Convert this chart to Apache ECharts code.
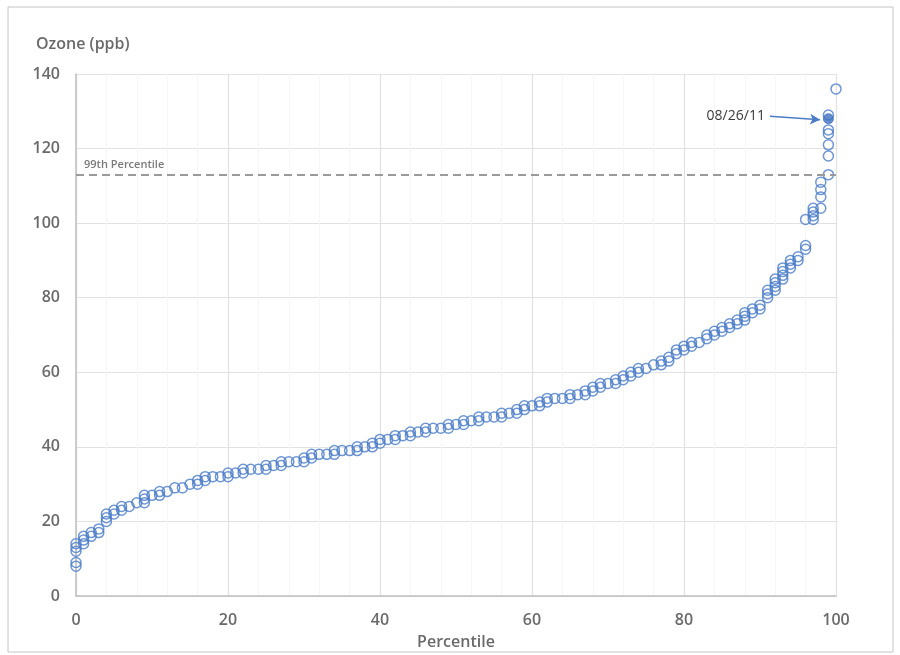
<!DOCTYPE html>
<html>
<head>
<meta charset="utf-8">
<script src="https://cdn.jsdelivr.net/npm/echarts@6/dist/echarts.min.js"></script>
<style>
  html, body { margin: 0; padding: 0; background: #fff; }
  #chart { width: 900px; height: 655px; }
</style>
</head>
<body>
<div id="chart"></div>
<script>
// ozone readings (ppb) grouped by percentile rank; index = percentile
const ozoneByPercentile = [
  [8, 9, 12, 13, 14], [14, 15, 16], [16, 17], [17, 18], [20, 21, 22],
  [22, 23], [23, 24], [24], [25], [25, 26, 27],
  [27], [27, 28], [28], [29], [29],
  [30], [30, 31], [31, 32], [32], [32],
  [32, 33], [33], [33, 34], [34], [34],
  [34, 35], [35], [35, 36], [36], [36],
  [36, 37], [37, 38], [38], [38], [38, 39],
  [39], [39], [39, 40], [40], [40, 41],
  [41, 42], [42], [42, 43], [43], [43, 44],
  [44], [44, 45], [45], [45], [45, 46],
  [46], [46, 47], [47], [47, 48], [48],
  [48], [48, 49], [49], [49, 50], [50, 51],
  [51], [51, 52], [52, 53], [53], [53],
  [53, 54], [54], [54, 55], [55, 56], [56, 57],
  [57], [57, 58], [58, 59], [59, 60], [60, 61],
  [61], [62], [62, 63], [63, 64], [65, 66],
  [66, 67], [67, 68], [68], [69, 70], [70, 71],
  [71, 72], [72, 73], [73, 74], [74, 75, 76], [76, 77],
  [77, 78], [80, 81, 82], [82, 83, 84, 85], [85, 86, 87, 88], [88, 89, 90],
  [90, 91], [93, 94, 101], [101, 102, 103, 104], [104, 107, 109, 111], [113, 118, 121, 124, 125, 129],
  [136]
];
const highlightPoint = [99, 128];
const highlightLabel = '08/26/11';
const arrowStart = [91.3, 128.7];
const percentile99 = 113;
const xTicks = [0, 20, 40, 60, 80, 100];
const yTicks = [0, 20, 40, 60, 80, 100, 120, 140];

const points = [];
ozoneByPercentile.forEach((vals, p) => {
  vals.forEach(v => points.push([p, v]));
});

const blue = '#4a7cc8';
const textGray = '#6a6a6a';
const font = 'Open Sans';

const chart = echarts.init(document.getElementById('chart'));

const option = {
  animation: false,
  backgroundColor: '#fff',
  textStyle: { fontFamily: font },
  graphic: [{
    type: 'rect',
    shape: { x: 8, y: 7, width: 885, height: 645 },
    style: { fill: 'none', stroke: '#c4c4c4', lineWidth: 1 },
    silent: true
  }],
  grid: { left: 76, right: 64, top: 74, bottom: 59 },
  xAxis: {
    type: 'value',
    min: xTicks[0],
    max: xTicks[xTicks.length - 1],
    interval: 20,
    name: 'Percentile',
    nameLocation: 'middle',
    nameGap: 38,
    nameTextStyle: { color: textGray, fontSize: 16, fontWeight: 600, fontFamily: font },
    axisLine: { show: true, lineStyle: { color: '#bfbfbf', width: 1.5 } },
    axisTick: { show: false },
    axisLabel: { color: textGray, fontSize: 16, fontWeight: 600, margin: 16 },
    splitLine: { show: true, lineStyle: { color: '#e2e2e2', width: 1.2 } },
    minorTick: { show: false, splitNumber: 5 },
    minorSplitLine: { show: true, lineStyle: { color: '#f6f6f6', width: 1 } }
  },
  yAxis: {
    type: 'value',
    min: yTicks[0],
    max: yTicks[yTicks.length - 1],
    interval: 20,
    name: 'Ozone (ppb)',
    nameLocation: 'end',
    nameGap: 22,
    nameTextStyle: { color: textGray, fontSize: 16, fontWeight: 600, align: 'left', padding: [0, 0, 0, -40] },
    axisLine: { show: true, lineStyle: { color: '#bfbfbf', width: 1.5 } },
    axisTick: { show: false },
    axisLabel: { color: textGray, fontSize: 16, fontWeight: 600, margin: 16 },
    splitLine: { show: true, lineStyle: { color: '#e2e2e2', width: 1.2 } }
  },
  series: [
    {
      name: 'Ozone',
      type: 'scatter',
      data: points,
      symbol: 'circle',
      symbolSize: 10,
      itemStyle: { color: 'rgba(255,255,255,0)', borderColor: blue, borderWidth: 1.5, opacity: 0.8 },
      markLine: {
        silent: true,
        symbol: ['none', 'none'],
        lineStyle: { color: '#9a9a9a', type: [8, 5], width: 2 },
        label: {
          show: true,
          position: 'insideStartTop',
          formatter: '99th Percentile',
          color: '#7a7a7a',
          fontSize: 11,
          fontWeight: 600,
          distance: [8, 4]
        },
        data: [{ yAxis: percentile99 }]
      }
    },
    {
      name: 'Highlight',
      type: 'scatter',
      data: [highlightPoint],
      symbol: 'circle',
      symbolSize: 10,
      z: 5,
      itemStyle: { color: '#3f6fbf', borderColor: '#3f6fbf', borderWidth: 1 },
      markLine: {
        silent: true,
        symbol: ['none', 'arrow'],
        symbolSize: [8, 10],
        lineStyle: { color: '#4a7cc8', type: 'solid', width: 1.5 },
        label: {
          show: true,
          position: 'start',
          formatter: highlightLabel,
          color: '#3a3a3a',
          fontSize: 14,
          distance: 5
        },
        data: [[
          { coord: arrowStart },
          { coord: [highlightPoint[0] - 1.1, highlightPoint[1] - 0.3] }
        ]]
      }
    }
  ]
};

chart.setOption(option);
</script>
</body>
</html>
